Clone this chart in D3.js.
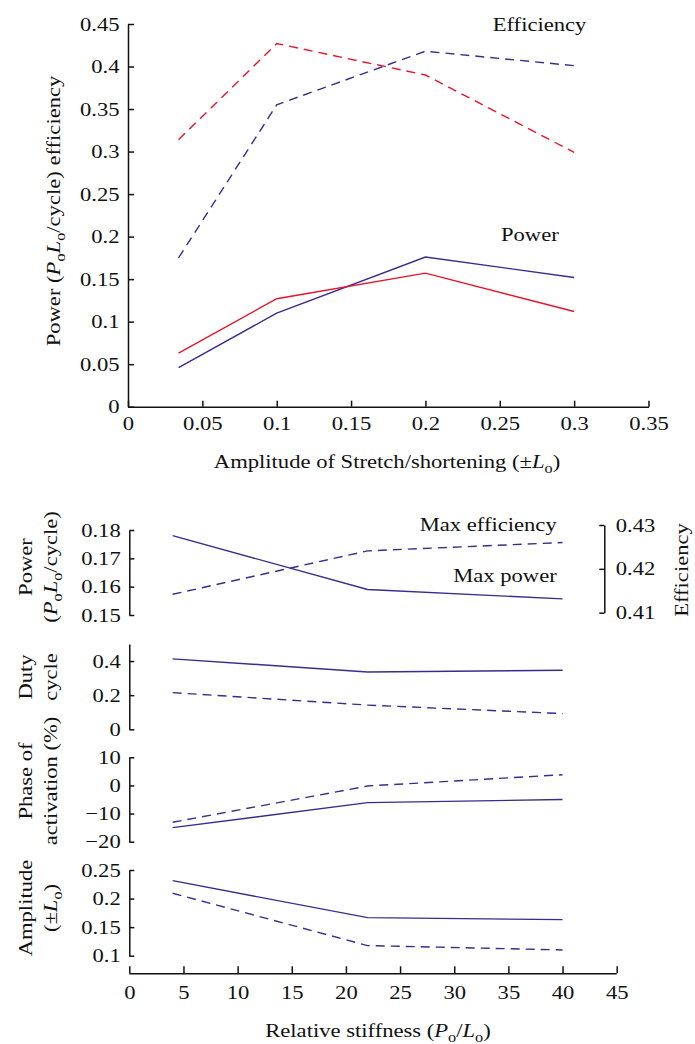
<!DOCTYPE html>
<html><head><meta charset="utf-8">
<script src="https://cdn.jsdelivr.net/npm/d3@7"></script>
<style>
body{margin:0;background:#fff}
svg{display:block}
text{font-family:"Liberation Serif","Times New Roman",serif;fill:#111}
</style>
</head><body><div id="chart"></div>
<script>
// ---------- data (top chart) ----------
const ampX = [0.034, 0.1, 0.2, 0.3];
const effRed = [0.314, 0.427, 0.390, 0.299];
const effBlue = [0.175, 0.355, 0.418, 0.401];
const powBlue = [0.046, 0.110, 0.176, 0.152];
const powRed = [0.063, 0.127, 0.157, 0.112];
const topXTicks = [0, 0.05, 0.1, 0.15, 0.2, 0.25, 0.3, 0.35];
const topXLabels = ["0", "0.05", "0.1", "0.15", "0.2", "0.25", "0.3", "0.35"];
const topYTicks = [0, 0.05, 0.1, 0.15, 0.2, 0.25, 0.3, 0.35, 0.4, 0.45];
const topYLabels = ["0", "0.05", "0.1", "0.15", "0.2", "0.25", "0.3", "0.35", "0.4", "0.45"];

// ---------- data (bottom panels) ----------
const stiff = [4, 22, 40];
const maxPowerPower = [0.178, 0.159, 0.1557];
const maxEffEfficiency = [0.4142, 0.4241, 0.4260];
const dutyMaxPower = [0.413, 0.336, 0.346];
const dutyMaxEff = [0.215, 0.142, 0.092];
const phaseMaxPower = [-15.0, -6.1, -5.0];
const phaseMaxEff = [-13.1, -0.2, 3.8];
const ampMaxPower = [0.2313, 0.1666, 0.1631];
const ampMaxEff = [0.2093, 0.1177, 0.1101];
const stiffTicks = [0, 5, 10, 15, 20, 25, 30, 35, 40, 45];
const stiffLabels = ["0", "5", "10", "15", "20", "25", "30", "35", "40", "45"];
const powTicks = [0.15, 0.16, 0.17, 0.18];
const powLabels = ["0.15", "0.16", "0.17", "0.18"];
const effTicks = [0.41, 0.42, 0.43];
const effLabels = ["0.41", "0.42", "0.43"];
const dutyTicks = [0, 0.2, 0.4];
const dutyLabels = ["0", "0.2", "0.4"];
const phaseTicks = [-20, -10, 0, 10];
const phaseLabels = ["\u221220", "\u221210", "0", "10"];
const ampTicks = [0.1, 0.15, 0.2, 0.25];
const ampLabels = ["0.1", "0.15", "0.2", "0.25"];

const BLUE = "#3c2a8e", RED = "#e8132b", INK = "#111";
const FS = 19, SX = 1.19, DASH = "9,6";

const svg = d3.select("#chart").append("svg").attr("width", 695).attr("height", 1044);
svg.append("rect").attr("width", 695).attr("height", 1044).attr("fill", "#fff");

function styleAxis(g, orient, pad) {
  g.attr("font-size", FS).attr("font-family", '"Liberation Serif","Times New Roman",serif');
  g.selectAll("path.domain").attr("stroke", INK).attr("stroke-width", 1.5);
  g.selectAll("line").attr("stroke", INK).attr("stroke-width", 1.5);
  const t = g.selectAll("text").attr("fill", INK);
  if (orient === "left") t.attr("x", 0).attr("transform", `translate(${-pad},0) scale(${SX},1)`);
  if (orient === "right") t.attr("x", 0).attr("transform", `translate(${pad},0) scale(${SX},1)`);
  if (orient === "bottom") t.attr("y", 0).attr("dy", "0.71em").attr("transform", `translate(0,${pad}) scale(${SX},1)`);
}

function rich(x, y, rot, anchor, parts, fs) {
  fs = fs || FS;
  const t = svg.append("text")
    .attr("transform", `translate(${x},${y}) rotate(${rot}) scale(${SX},1)`)
    .attr("text-anchor", anchor).attr("font-size", fs).attr("fill", INK);
  let prevSub = false;
  parts.forEach(p => {
    const o = typeof p === "string" ? { t: p } : p;
    const s = t.append("tspan").text(o.t);
    if (o.i) s.attr("font-style", "italic");
    if (o.sub) { s.attr("font-size", fs * 0.72); if (!prevSub) s.attr("dy", 5); }
    else if (prevSub) s.attr("dy", -5);
    prevSub = !!o.sub;
  });
  return t;
}

function drawLine(xs, ys, xScale, yScale, color, dashed) {
  const line = d3.line().x((d, i) => xScale(xs[i])).y(d => yScale(d));
  svg.append("path").datum(ys).attr("d", line).attr("fill", "none")
    .attr("stroke", color).attr("stroke-width", 1.4)
    .attr("stroke-dasharray", dashed ? DASH : null);
}

// ================= TOP CHART =================
const xTop = d3.scaleLinear().domain([0, 0.35]).range([128, 648.5]);
const yTop = d3.scaleLinear().domain([0, 0.45]).range([406.7, 24]);

const gxTop = svg.append("g").attr("transform", `translate(0,${yTop(0)})`)
  .call(d3.axisBottom(xTop).tickValues(topXTicks).tickFormat((d, i) => topXLabels[i])
    .tickSizeInner(-6).tickSizeOuter(0));
styleAxis(gxTop, "bottom", 10);
const gyTop = svg.append("g").attr("transform", `translate(${xTop(0)},0)`)
  .call(d3.axisLeft(yTop).tickValues(topYTicks).tickFormat((d, i) => topYLabels[i])
    .tickSizeInner(-6).tickSizeOuter(0));
styleAxis(gyTop, "left", 8.5);

drawLine(ampX, effRed, xTop, yTop, RED, true);
drawLine(ampX, effBlue, xTop, yTop, BLUE, true);
drawLine(ampX, powBlue, xTop, yTop, BLUE, false);
drawLine(ampX, powRed, xTop, yTop, RED, false);

rich(492.7, 31, 0, "start", ["Efficiency"]);
rich(501, 241, 0, "start", ["Power"]);
rich(387, 468, 0, "middle", ["Amplitude of Stretch/shortening (\u00b1", { t: "L", i: true }, { t: "o", sub: true }, ")"]);
rich(60, 211, -90, "middle", ["Power (", { t: "P", i: true }, { t: "o", sub: true }, { t: "L", i: true }, { t: "o", sub: true }, "/cycle) efficiency"]);

// ================= BOTTOM PANELS =================
const xB = d3.scaleLinear().domain([0, 45]).range([129.3, 616.7]);
const AXL = xB(0);

const gxB = svg.append("g").attr("transform", "translate(0,973.3)")
  .call(d3.axisBottom(xB).tickValues(stiffTicks).tickFormat((d, i) => stiffLabels[i])
    .tickSizeInner(-7).tickSizeOuter(0));
styleAxis(gxB, "bottom", 12);
gxB.select("path.domain").attr("d", `M${xB(0)},0.5H${xB(45)}`);

function leftAxis(scale, ticks, labels) {
  const g = svg.append("g").attr("transform", `translate(${AXL},0)`)
    .call(d3.axisLeft(scale).tickValues(ticks).tickFormat((d, i) => labels[i])
      .tickSizeInner(-5).tickSizeOuter(0));
  styleAxis(g, "left", 8.6);
  return g;
}

// Panel 1: power & efficiency
const yP = d3.scaleLinear().domain([0.15, 0.18]).range([615, 530]);
const yE = d3.scaleLinear().domain([0.41, 0.43]).range([612.7, 525]);
leftAxis(yP, powTicks, powLabels);
const gE = svg.append("g").attr("transform", "translate(604.3,0)")
  .call(d3.axisRight(yE).tickValues(effTicks).tickFormat((d, i) => effLabels[i])
    .tickSizeInner(-5).tickSizeOuter(0));
styleAxis(gE, "right", 11.5);
drawLine(stiff, maxPowerPower, xB, yP, BLUE, false);
drawLine(stiff, maxEffEfficiency, xB, yE, BLUE, true);
rich(556.7, 531, 0, "end", ["Max efficiency"]);
rich(556.7, 582, 0, "end", ["Max power"]);
rich(32, 567, -90, "middle", ["Power"]);
rich(57, 567, -90, "middle", ["(", { t: "P", i: true }, { t: "o", sub: true }, { t: "L", i: true }, { t: "o", sub: true }, "/cycle)"]);
rich(688, 570, -90, "middle", ["Efficiency"]);

// Panel 2: duty cycle
const yD = d3.scaleLinear().domain([0, 0.5]).range([729.3, 644]);
leftAxis(yD, dutyTicks, dutyLabels);
drawLine(stiff, dutyMaxPower, xB, yD, BLUE, false);
drawLine(stiff, dutyMaxEff, xB, yD, BLUE, true);
rich(32, 677, -90, "middle", ["Duty"]);
rich(57, 677, -90, "middle", ["cycle"]);

// Panel 3: phase of activation
const yPh = d3.scaleLinear().domain([-20, 10]).range([841.7, 757.3]);
leftAxis(yPh, phaseTicks, phaseLabels);
drawLine(stiff, phaseMaxPower, xB, yPh, BLUE, false);
drawLine(stiff, phaseMaxEff, xB, yPh, BLUE, true);
rich(32, 781, -90, "middle", ["Phase of"]);
rich(57, 781, -90, "middle", ["activation (%)"]);

// Panel 4: amplitude
const yA = d3.scaleLinear().domain([0.1, 0.25]).range([955.7, 870]);
leftAxis(yA, ampTicks, ampLabels);
drawLine(stiff, ampMaxPower, xB, yA, BLUE, false);
drawLine(stiff, ampMaxEff, xB, yA, BLUE, true);
rich(32, 908, -90, "middle", ["Amplitude"]);
rich(57, 908, -90, "middle", ["(\u00b1", { t: "L", i: true }, { t: "o", sub: true }, ")"]);

rich(378, 1037, 0, "middle", ["Relative stiffness (", { t: "P", i: true }, { t: "o", sub: true }, "/", { t: "L", i: true }, { t: "o", sub: true }, ")"]);
</script>
</body></html>
